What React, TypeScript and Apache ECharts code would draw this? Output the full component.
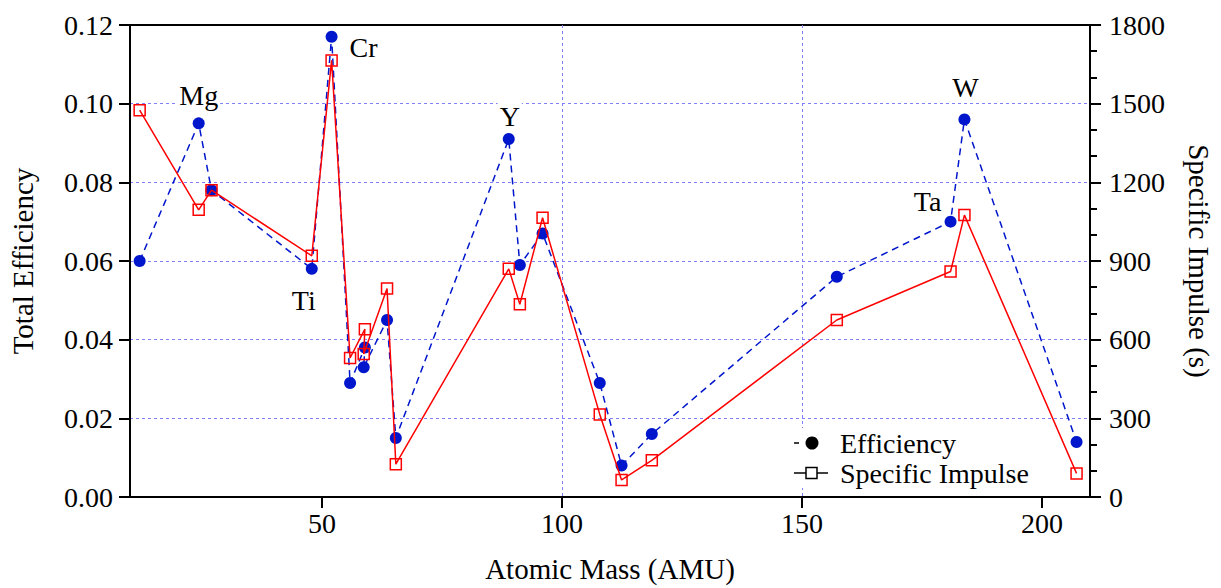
import React, { useEffect, useRef } from "react";
import * as echarts from "echarts";

const elements = ["C", "Mg", "Al", "Ti", "Cr", "Fe", "Co", "Ni", "Cu", "Zn", "Y", "Zr", "Mo", "Ag", "Cd", "Sn", "Gd", "Ta", "W", "Pb"];
const atomicMass = [12.01, 24.31, 26.98, 47.87, 52.0, 55.85, 58.93, 58.69, 63.55, 65.38, 88.91, 91.22, 95.95, 107.87, 112.41, 118.71, 157.25, 180.95, 183.84, 207.2];
const efficiency = [0.06, 0.095, 0.078, 0.058, 0.117, 0.029, 0.038, 0.033, 0.045, 0.015, 0.091, 0.059, 0.067, 0.029, 0.008, 0.016, 0.056, 0.07, 0.096, 0.014];
const specificImpulse = [1475, 1095, 1170, 920, 1665, 530, 640, 545, 795, 125, 870, 735, 1065, 315, 65, 140, 675, 860, 1075, 90];
const xTickValues = [50, 100, 150, 200];
const labelledElements = ["Mg", "Cr", "Ti", "Y", "Ta", "W"];

const labelOffsets: Record<string, [number, number]> = {
  Mg: [0, -28],
  Cr: [32, 11],
  Ti: [-8, 32],
  Y: [1, -23],
  Ta: [-23, -20],
  W: [1, -32],
};

const FONT = "'Liberation Serif', 'Times New Roman', serif";
const BLUE = "#0016cc";
const RED = "#ff0000";
const GRID = "#8080ff";

export default function App() {
  const ref = useRef<HTMLDivElement>(null);

  useEffect(() => {
    if (!ref.current) return;
    const chart = echarts.init(ref.current, undefined, { renderer: "svg" });

    const effData = atomicMass.map((m, i) => {
      const el = elements[i];
      const show = labelledElements.includes(el);
      return {
        value: [m, efficiency[i]],
        label: show
          ? {
              show: true,
              formatter: el,
              position: "inside",
              offset: labelOffsets[el],
              fontFamily: FONT,
              fontSize: 28,
              color: "#000",
              backgroundColor: "#fff",
              padding: [0, 2],
            }
          : { show: false },
      };
    });

    const ispData = atomicMass.map((m, i) => [m, specificImpulse[i]]);

    const axisText = { fontFamily: FONT, fontSize: 28, color: "#000" };
    const gridLine = {
      show: true,
      showMinLine: false,
      showMaxLine: false,
      lineStyle: { color: GRID, type: [3, 3], width: 1 },
    };

    chart.setOption({
      animation: false,
      backgroundColor: "#fff",
      textStyle: { fontFamily: FONT },
      grid: {
        left: 130,
        right: 130,
        top: 25,
        bottom: 88,
        show: true,
        borderColor: "#000",
        borderWidth: 2,
        backgroundColor: "transparent",
      },
      xAxis: {
        type: "value",
        min: 10,
        max: 210,
        name: "Atomic Mass (AMU)",
        nameLocation: "middle",
        nameGap: 57,
        nameTextStyle: { ...axisText, fontSize: 29 },
        axisLine: { show: true, lineStyle: { color: "#000", width: 2 } },
        axisTick: { show: true, customValues: xTickValues, length: 11, lineStyle: { color: "#000", width: 2 } },
        axisLabel: { ...axisText, customValues: xTickValues, margin: 12, formatter: (v: number) => String(v) },
        splitLine: gridLine,
      },
      yAxis: [
        {
          type: "value",
          min: 0,
          max: 0.12,
          interval: 0.02,
          position: "left",
          name: "Total Efficiency",
          nameLocation: "middle",
          nameGap: 93,
          nameTextStyle: { ...axisText, fontSize: 29 },
          axisLine: { show: true, lineStyle: { color: "#000", width: 2 } },
          axisTick: { show: true, length: 11, lineStyle: { color: "#000", width: 2 } },
          axisLabel: { ...axisText, margin: 17, formatter: (v: number) => v.toFixed(2) },
          splitLine: gridLine,
        },
        {
          type: "value",
          min: 0,
          max: 1800,
          interval: 300,
          position: "right",
          name: "Specific Impulse (s)",
          nameLocation: "middle",
          nameRotate: -90,
          nameGap: 94,
          nameTextStyle: { ...axisText, fontSize: 29 },
          axisLine: { show: true, lineStyle: { color: "#000", width: 2 } },
          axisTick: { show: true, length: 11, lineStyle: { color: "#000", width: 2 } },
          minorTick: { show: true, splitNumber: 3, length: 7, lineStyle: { color: "#000", width: 2 } },
          axisLabel: { ...axisText, margin: 19, formatter: (v: number) => String(Math.round(v)) },
          splitLine: { show: false },
        },
      ],
      series: [
        {
          type: "line",
          name: "Efficiency",
          yAxisIndex: 0,
          data: effData,
          symbol: "circle",
          symbolSize: 12,
          itemStyle: { color: BLUE },
          lineStyle: { color: BLUE, width: 1.5, type: [7, 5] },
          z: 2,
        },
        {
          type: "line",
          name: "Specific Impulse",
          yAxisIndex: 1,
          data: ispData,
          symbol: "rect",
          symbolSize: 11,
          itemStyle: { color: "rgba(255,255,255,0)", borderColor: RED, borderWidth: 1.5 },
          lineStyle: { color: RED, width: 1.5 },
          z: 3,
        },
      ],
      graphic: [
        { type: "rect", z: 10, shape: { x: 788, y: 428, width: 252, height: 60 }, style: { fill: "#fff" } },
        { type: "line", z: 11, shape: { x1: 794, y1: 443, x2: 799, y2: 443 }, style: { stroke: "#000", lineWidth: 1.5 } },
        { type: "circle", z: 11, shape: { cx: 812, cy: 443, r: 6.5 }, style: { fill: "#000" } },
        {
          type: "text",
          z: 11,
          x: 840,
          y: 443,
          style: { text: "Efficiency", fontFamily: FONT, fontSize: 28, fill: "#000", verticalAlign: "middle" },
        },
        { type: "line", z: 11, shape: { x1: 794, y1: 473, x2: 828, y2: 473 }, style: { stroke: "#000", lineWidth: 1.5 } },
        { type: "rect", z: 12, shape: { x: 806, y: 467.5, width: 11, height: 11 }, style: { fill: "#fff", stroke: "#000", lineWidth: 1.5 } },
        {
          type: "text",
          z: 11,
          x: 840,
          y: 473,
          style: { text: "Specific Impulse", fontFamily: FONT, fontSize: 28, fill: "#000", verticalAlign: "middle" },
        },
      ],
    });

    return () => chart.dispose();
  }, []);

  return (
    <div style={{ position: "fixed", left: 0, top: 0, width: 1221, height: 588, background: "#fff" }}>
      <div ref={ref} style={{ width: 1221, height: 588 }} />
    </div>
  );
}
